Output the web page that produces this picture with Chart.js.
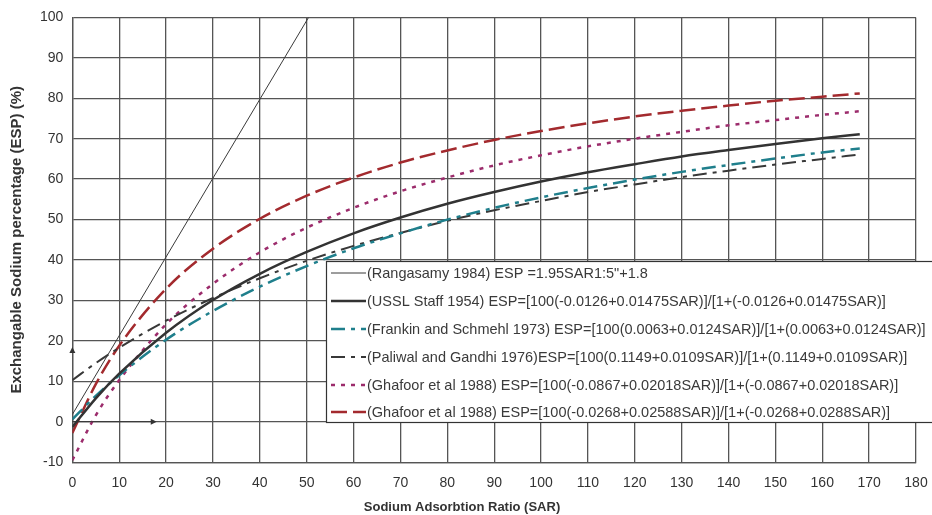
<!DOCTYPE html>
<html>
<head>
<meta charset="utf-8">
<script src="https://cdn.jsdelivr.net/npm/chart.js@4/dist/chart.umd.min.js"></script>
<style>
  html, body { margin: 0; padding: 0; background: #fff; }
  #wrap { width: 932px; height: 515px; position: relative; }
</style>
</head>
<body>
<div id="wrap"><canvas id="esp"></canvas></div>
<script>
// SAR positions where the curves were read
const sar = [0, 5, 10, 20, 30, 40, 50, 60, 70, 80, 90, 100, 110, 120, 130, 140, 150, 160, 168];

const rangasamySar = [0, 50.4];
const rangasamy = [1.8, 100];
const ussl = [-1.3, 5.8, 11.9, 22.0, 30.1, 36.6, 42.0, 46.6, 50.5, 53.9, 56.8, 59.4, 61.7, 63.7, 65.6, 67.2, 68.7, 70.1, 71.1];
const frankin = [0.6, 6.4, 11.5, 20.3, 27.4, 33.4, 38.5, 42.9, 46.6, 50.0, 52.9, 55.5, 57.8, 59.9, 61.8, 63.5, 65.1, 66.6, 67.6];
const paliwal = [10.3, 14.5, 18.3, 25.0, 30.6, 35.5, 39.8, 43.5, 46.7, 49.7, 52.3, 54.6, 56.8, 58.7, 60.5, 62.1, 63.6, 65.0, 66.1];
const ghafoor1 = [-9.5, 1.6, 10.3, 24.1, 34.1, 41.9, 48.0, 52.9, 57.0, 60.4, 63.4, 65.9, 68.1, 70.0, 71.7, 73.3, 74.6, 75.9, 76.8];
const ghafoor2 = [-2.75, 9.3, 18.8, 32.9, 42.8, 50.2, 55.9, 60.4, 64.1, 67.1, 69.7, 71.9, 73.8, 75.5, 76.9, 78.2, 79.4, 80.4, 81.2];

const labels = [
  "(Rangasamy 1984) ESP =1.95SAR1:5\"+1.8",
  "(USSL Staff 1954) ESP=[100(-0.0126+0.01475SAR)]/[1+(-0.0126+0.01475SAR)]",
  "(Frankin and Schmehl 1973) ESP=[100(0.0063+0.0124SAR)]/[1+(0.0063+0.0124SAR)]",
  "(Paliwal and Gandhi 1976)ESP=[100(0.1149+0.0109SAR)]/[1+(0.1149+0.0109SAR)]",
  "(Ghafoor et al 1988) ESP=[100(-0.0867+0.02018SAR)]/[1+(-0.0867+0.02018SAR)]",
  "(Ghafoor et al 1988) ESP=[100(-0.0268+0.02588SAR)]/[1+(-0.0268+0.0288SAR)]",
];
const xTitle = "Sodium Adsorbtion Ratio (SAR)";
const yTitle = "Exchangable Sodium percentage (ESP) (%)";

const FONT = "'Liberation Sans', Arial, sans-serif";

const toPts = (xs, ys) => xs.map((x, i) => ({ x: x, y: ys[i] }));

const base = { pointRadius: 0, fill: false, cubicInterpolationMode: "monotone", borderCapStyle: "butt" };

const datasets = [
  { ...base, label: labels[0], data: toPts(rangasamySar, rangasamy), borderColor: "#3a3a3a", borderWidth: 1 },
  { ...base, label: labels[1], data: toPts(sar, ussl), borderColor: "#333333", borderWidth: 2.5 },
  { ...base, label: labels[2], data: toPts(sar, frankin), borderColor: "#1f7f8c", borderWidth: 2.5, borderDash: [14, 6, 4, 6] },
  { ...base, label: labels[3], data: toPts(sar, paliwal), borderColor: "#383838", borderWidth: 2, borderDash: [14, 6, 4, 6] },
  { ...base, label: labels[4], data: toPts(sar, ghafoor1), borderColor: "#9c2c6c", borderWidth: 2.5, borderDash: [4, 6] },
  { ...base, label: labels[5], data: toPts(sar, ghafoor2), borderColor: "#a32a2e", borderWidth: 2.5, borderDash: [16, 6] },
];

// legend box inside the plot, x axis title and the two little arrows
const boxLegend = {
  id: "boxLegend",
  afterDraw(chart) {
    const ctx = chart.ctx;
    const x0 = 326, y0 = 261, w = 620, h = 161;
    ctx.save();
    ctx.fillStyle = "#fff";
    ctx.fillRect(x0, y0, w, h);
    ctx.strokeStyle = "#333";
    ctx.lineWidth = 1.2;
    ctx.strokeRect(x0 + 0.5, y0 + 0.5, w, h);
    const rows = [273, 301, 329, 357, 385, 412];
    ctx.font = "14.5px " + FONT;
    ctx.textBaseline = "middle";
    chart.data.datasets.forEach((ds, i) => {
      const y = rows[i];
      ctx.strokeStyle = ds.borderColor;
      ctx.lineWidth = ds.borderWidth;
      ctx.setLineDash(ds.borderDash || []);
      ctx.beginPath();
      ctx.moveTo(331, y);
      ctx.lineTo(366, y);
      ctx.stroke();
      ctx.setLineDash([]);
      ctx.fillStyle = "#3a3a3a";
      ctx.fillText(ds.label, 367, y + 1);
    });

    ctx.fillStyle = "#333";
    ctx.font = "bold 13px " + FONT;
    ctx.textAlign = "center";
    ctx.fillText(xTitle, 462, 507);

    ctx.strokeStyle = "#333";
    ctx.lineWidth = 1;
    const xs = chart.scales.x, ys = chart.scales.y;
    const ax = xs.getPixelForValue(0), ay = ys.getPixelForValue(0);
    ctx.beginPath(); ctx.moveTo(ax, ay); ctx.lineTo(xs.getPixelForValue(17), ay); ctx.stroke();
    const tx = xs.getPixelForValue(18);
    ctx.beginPath();
    ctx.moveTo(tx, ay); ctx.lineTo(tx - 6, ay - 3); ctx.lineTo(tx - 6, ay + 3); ctx.closePath(); ctx.fill();
    const ty = ys.getPixelForValue(18.5);
    ctx.beginPath();
    ctx.moveTo(ax, ty); ctx.lineTo(ax - 3, ty + 6); ctx.lineTo(ax + 3, ty + 6); ctx.closePath(); ctx.fill();
    ctx.restore();
  },
};

const gridStyle = { color: "#555", lineWidth: 1.3, drawTicks: false };

const config = {
  type: "line",
  data: { datasets: datasets },
  options: {
    animation: false,
    responsive: true,
    maintainAspectRatio: false,
    layout: { padding: { top: 16, right: 16, bottom: 10, left: 8 } },
    plugins: {
      legend: { display: false },
      tooltip: { enabled: false },
    },
    scales: {
      x: {
        type: "linear",
        min: 0,
        max: 180,
        ticks: { stepSize: 10, padding: 13, color: "#333", font: { size: 14, family: FONT } },
        grid: gridStyle,
        border: { color: "#555", width: 1.3 },
        afterFit: (scale) => { scale.paddingRight = 0; scale.paddingLeft = 0; },
      },
      y: {
        min: -10,
        max: 100,
        ticks: { stepSize: 10, padding: 9, color: "#333", font: { size: 14, family: FONT } },
        grid: gridStyle,
        border: { color: "#555", width: 1.3 },
        title: { display: true, text: yTitle, color: "#333", padding: { top: 0, bottom: 5 },
          font: { size: 15, weight: "bold", family: FONT } },
      },
    },
  },
  plugins: [boxLegend],
};

new Chart(document.getElementById("esp"), config);
</script>
</body>
</html>
